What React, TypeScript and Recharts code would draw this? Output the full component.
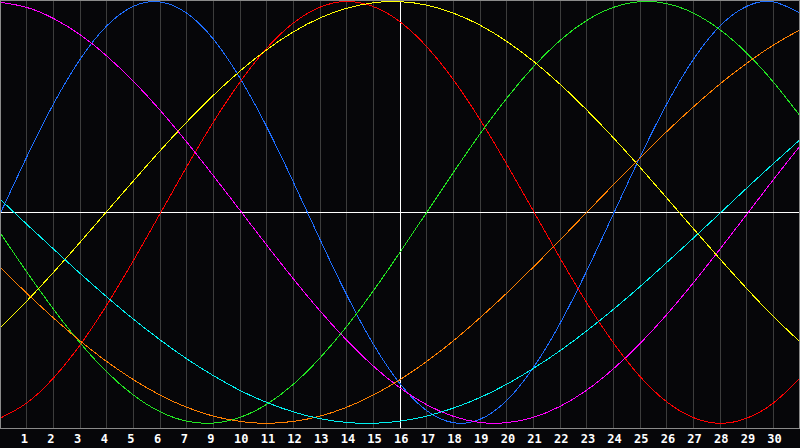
import React from "react";
import { LineChart, Line, XAxis, YAxis, CartesianGrid, ReferenceLine } from "recharts";

// day index 0..30 across the plot
const DAYS = [0, 1, 2, 3, 4, 5, 6, 7, 8, 9, 10, 11, 12, 13, 14, 15, 16, 17, 18, 19, 20, 21, 22, 23, 24, 25, 26, 27, 28, 29, 30];

// labels under the grid lines 1..29 (the date 8 is skipped in the source)
const TICK_POS = [1, 2, 3, 4, 5, 6, 7, 8, 9, 10, 11, 12, 13, 14, 15, 16, 17, 18, 19, 20, 21, 22, 23, 24, 25, 26, 27, 28, 29];
const TICK_LABELS = ["1", "2", "3", "4", "5", "6", "7", "9", "10", "11", "12", "13", "14", "15", "16", "17", "18", "19", "20", "21", "22", "23", "24", "25", "26", "27", "28", "29", "30"];

// values, one per day
const physical = [-0.008, 0.262, 0.513, 0.725, 0.884, 0.977, 0.998, 0.945, 0.822, 0.637, 0.406, 0.144, -0.128, -0.391, -0.625, -0.812, -0.94, -0.997, -0.981, -0.892, -0.736, -0.527, -0.278, -0.008, 0.262, 0.513, 0.725, 0.884, 0.977, 0.998, 0.945];
const emotional = [-0.976, -0.904, -0.786, -0.629, -0.44, -0.229, -0.007, 0.216, 0.428, 0.618, 0.778, 0.898, 0.973, 1.0, 0.976, 0.904, 0.786, 0.629, 0.44, 0.229, 0.007, -0.216, -0.428, -0.618, -0.778, -0.898, -0.973, -1.0, -0.976, -0.904, -0.786];
const intellectual = [-0.095, -0.282, -0.458, -0.618, -0.756, -0.866, -0.945, -0.99, -0.999, -0.972, -0.91, -0.815, -0.69, -0.541, -0.372, -0.189, 0.0, 0.189, 0.372, 0.541, 0.69, 0.815, 0.91, 0.972, 0.999, 0.99, 0.945, 0.866, 0.756, 0.618, 0.458];
const intuitive = [0.997, 0.972, 0.92, 0.843, 0.742, 0.622, 0.485, 0.334, 0.174, 0.01, -0.155, -0.315, -0.467, -0.606, -0.729, -0.832, -0.912, -0.967, -0.996, -0.997, -0.972, -0.92, -0.843, -0.742, -0.622, -0.485, -0.334, -0.174, -0.01, 0.155, 0.315];
const aesthetic = [-0.549, -0.421, -0.285, -0.142, 0.004, 0.149, 0.292, 0.428, 0.555, 0.67, 0.771, 0.856, 0.922, 0.968, 0.994, 0.999, 0.983, 0.945, 0.888, 0.811, 0.717, 0.608, 0.486, 0.354, 0.214, 0.069, -0.077, -0.221, -0.361, -0.493, -0.614];
const awareness = [-0.259, -0.383, -0.5, -0.609, -0.707, -0.793, -0.866, -0.924, -0.966, -0.991, -1.0, -0.991, -0.966, -0.924, -0.866, -0.793, -0.707, -0.609, -0.5, -0.383, -0.259, -0.131, 0.0, 0.131, 0.259, 0.383, 0.5, 0.609, 0.707, 0.793, 0.866];
const spiritual = [0.063, -0.056, -0.173, -0.289, -0.4, -0.506, -0.604, -0.694, -0.774, -0.844, -0.901, -0.946, -0.978, -0.996, -1.0, -0.99, -0.966, -0.928, -0.878, -0.815, -0.74, -0.656, -0.562, -0.46, -0.352, -0.238, -0.122, -0.004, 0.115, 0.231, 0.345];

const SERIES = [
  { key: "physical", values: physical, color: "#1e6eff" },
  { key: "emotional", values: emotional, color: "#ff0000" },
  { key: "intellectual", values: intellectual, color: "#22e622" },
  { key: "intuitive", values: intuitive, color: "#ff00ff" },
  { key: "aesthetic", values: aesthetic, color: "#ffff00" },
  { key: "awareness", values: awareness, color: "#ff8000" },
  { key: "spiritual", values: spiritual, color: "#00f0f0" },
];

const data = DAYS.map((day, i) => {
  const row: Record<string, number> = { day };
  SERIES.forEach((s) => {
    row[s.key] = s.values[i];
  });
  return row;
});

const DayTick = (props: any) => {
  const { x, y, payload } = props;
  const idx = TICK_POS.indexOf(payload.value);
  return (
    <text
      x={x - 6}
      y={y + 15}
      textAnchor="start"
      fill="#ffffff"
      fontFamily="DejaVu Sans Mono"
      fontWeight="bold"
      fontSize={12}
    >
      {idx >= 0 ? TICK_LABELS[idx] : ""}
    </text>
  );
};

export default function App() {
  return (
    <div style={{ position: "fixed", left: 0, top: 0, width: 800, height: 448, background: "#060609" }}>
      <LineChart width={800} height={448} data={data} margin={{ top: 0, right: 0, bottom: 0, left: 0 }}>
        <CartesianGrid horizontal={false} stroke="#3c3c3c" shapeRendering="crispEdges" />
        <XAxis
          dataKey="day"
          type="number"
          domain={[0, 30]}
          ticks={TICK_POS}
          interval={0}
          height={20}
          axisLine={false}
          tickLine={false}
          tickSize={0}
          tickMargin={0}
          tick={<DayTick />}
        />
        <YAxis hide type="number" domain={[-1.0223, 1.0071]} allowDataOverflow />
        <ReferenceLine x={15} stroke="#ffffff" shapeRendering="crispEdges" />
        <ReferenceLine y={0} stroke="#ffffff" shapeRendering="crispEdges" />
        {SERIES.map((s) => (
          <Line
            key={s.key}
            dataKey={s.key}
            type="natural"
            stroke={s.color}
            strokeWidth={1}
            shapeRendering="crispEdges"
            dot={false}
            activeDot={false}
            isAnimationActive={false}
          />
        ))}
      </LineChart>
      <div
        style={{
          position: "absolute",
          left: 0,
          top: 0,
          width: 800,
          height: 429,
          boxSizing: "border-box",
          border: "1px solid #8a8a8a",
          pointerEvents: "none",
        }}
      />
    </div>
  );
}
